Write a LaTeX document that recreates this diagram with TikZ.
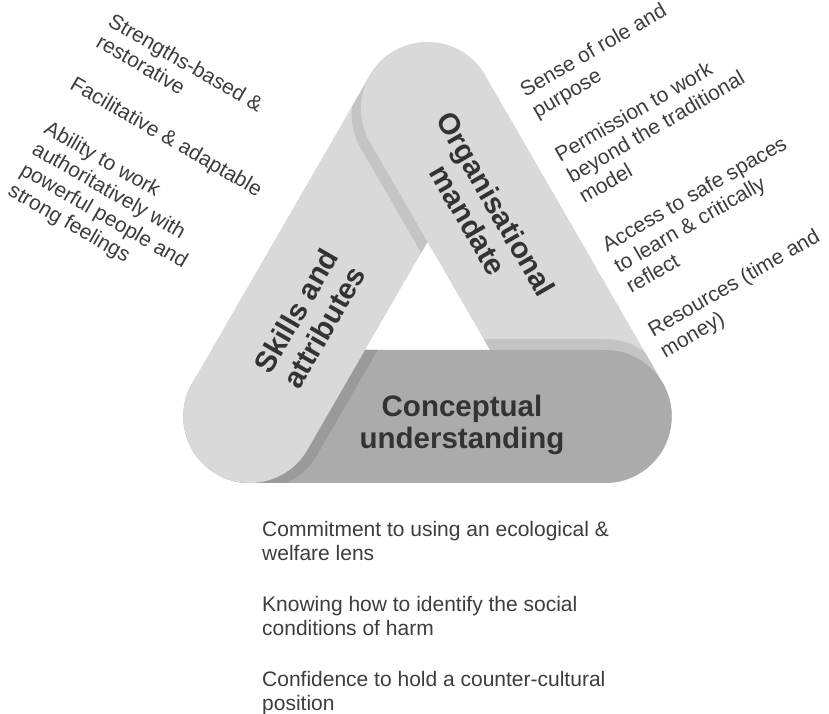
\documentclass[tikz,border=0pt]{standalone}
\usepackage{fontspec}
\setmainfont{Liberation Sans}
\definecolor{barlight}{HTML}{D9D9D9}
\definecolor{shlight}{HTML}{C4C4C4}
\definecolor{bardark}{HTML}{ABABAB}
\definecolor{shdark}{HTML}{9A9A9A}
\definecolor{txt}{HTML}{3D3D3D}
\definecolor{bartxt}{HTML}{333333}
\newcommand\Rb{66.5pt}
\newcommand\Lb{355.4pt}
\newcommand\stadium[2]{(#1) ++(#2+90:\Rb) -- ++(#2:\Lb) arc[start angle=#2+90, delta angle=-180, radius=\Rb] -- ++(#2+180:\Lb) arc[start angle=#2-90, delta angle=-180, radius=\Rb] -- cycle}
\newcommand\leftbar{\stadium{249.8,297.5}{60}}
\newcommand\rightbar{\stadium{427.5,605.3}{-60}}
\newcommand\bottombar{\stadium{249.8,297.5}{0}}
\tikzset{
  barlabel/.style={font=\fontsize{29.5}{32}\selectfont\bfseries, align=center, text=bartxt, inner sep=0pt},
  sidetxt/.style={font=\fontsize{21}{24}\selectfont, align=left, text=txt, inner sep=0pt, anchor=north west}
}
\begin{document}
\begin{tikzpicture}[x=1pt,y=1pt]
\fill[white] (0,0) rectangle (829,714);
\useasboundingbox (0,0) rectangle (829,714);
% right bar (base)
\fill[barlight] \rightbar;
% bottom bar over right bar, with shadow
\begin{scope}
  \clip \rightbar;
  \begin{scope}[shift={(0,11)}]
    \fill[shlight] \bottombar;
  \end{scope}
\end{scope}
\fill[bardark] \bottombar;
% left bar over bottom bar, with shadow
\begin{scope}
  \clip \bottombar;
  \begin{scope}[shift={(9.5,-5.5)}]
    \fill[shdark] \leftbar;
  \end{scope}
\end{scope}
\fill[barlight] \leftbar;
% right bar over left bar at the top
\begin{scope}
  \clip (0,455) rectangle (829,714);
  \begin{scope}
    \clip \leftbar;
    \begin{scope}[shift={(-9.5,-5.5)}]
      \fill[shlight] \rightbar;
    \end{scope}
  \end{scope}
  \fill[barlight] \rightbar;
\end{scope}
% bar labels
\node[barlabel, rotate=-60] (org) at (482,502) {Organisational\\mandate};
\node[barlabel, rotate=60] (skills) at (310,395) {Skills and\\attributes};
\node[barlabel] (concept) at (462,289) {Conceptual\\understanding};
% left texts
\node[sidetxt, rotate=-30] (s1) at (114.5,702) {Strengths-based \&\\restorative};
\node[sidetxt, rotate=-30] (s2) at (76.5,639) {Facilitative \& adaptable};
\node[sidetxt, rotate=-30] (s3) at (50.5,595) {Ability to work\\authoritatively with\\powerful people and\\strong feelings};
% right texts
\node[sidetxt, rotate=30] (o1) at (517.5,630) {Sense of role and\\purpose};
\node[sidetxt, rotate=30] (o2) at (552.5,565) {Permission to work\\beyond the traditional\\model};
\node[sidetxt, rotate=30] (o3) at (599.5,475) {Access to safe spaces\\to learn \& critically\\reflect};
\node[sidetxt, rotate=30] (o4) at (645.5,390) {Resources (time and\\money)};
% bottom texts
\node[sidetxt] (c1) at (262,193) {Commitment to using an ecological \&\\welfare lens};
\node[sidetxt] (c2) at (262,118) {Knowing how to identify the social\\conditions of harm};
\node[sidetxt] (c3) at (262,43) {Confidence to hold a counter-cultural\\position};
\end{tikzpicture}
\end{document}
